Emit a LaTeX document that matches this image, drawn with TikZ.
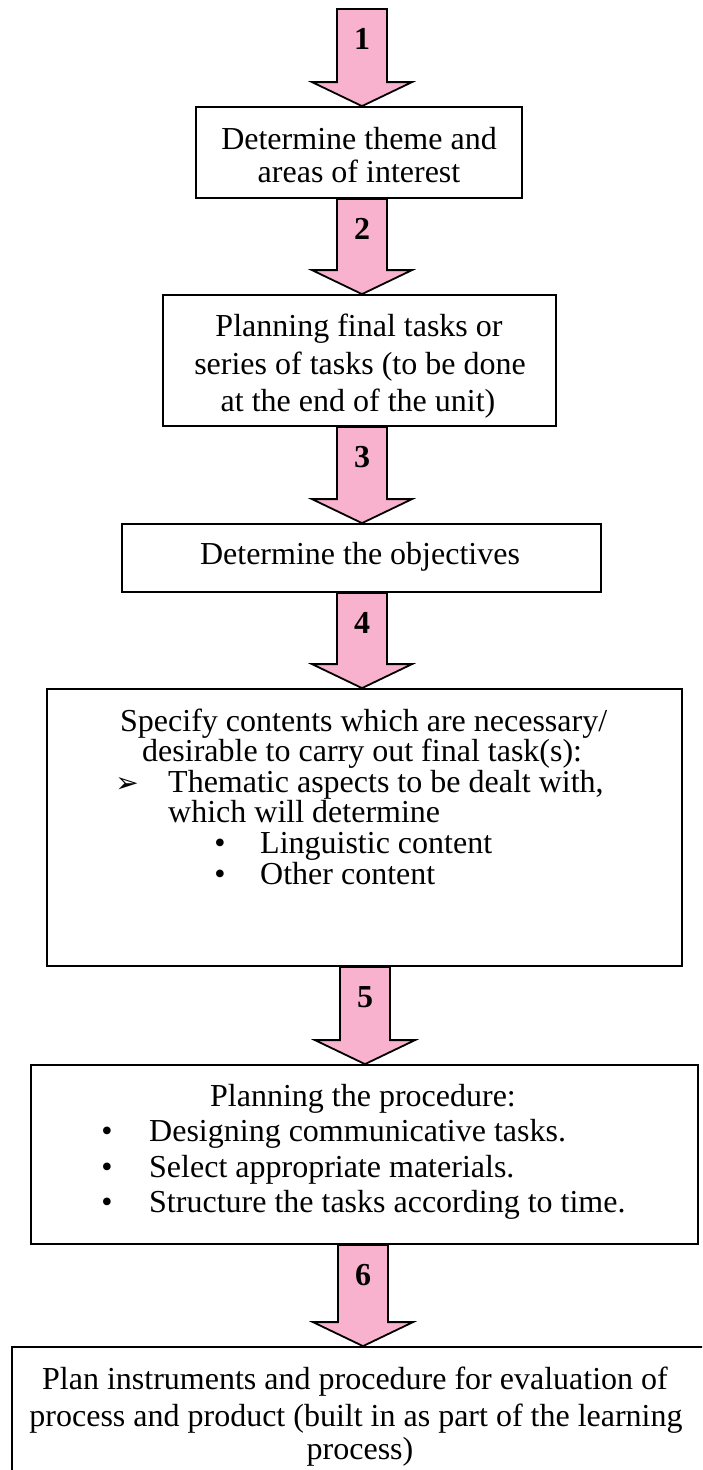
\documentclass[tikz,border=0pt]{standalone}
\usepackage{fontspec}
\setmainfont{Liberation Serif}
\newfontfamily\dingfont{DejaVu Sans}
\usetikzlibrary{calc}
\definecolor{arrowpink}{RGB}{249,178,206}
\tikzset{
  box/.style={draw=black, line width=1.8pt, fill=white, rectangle, inner sep=0pt},
  line/.style={inner sep=0pt, anchor=base, font=\fontsize{32}{38}\selectfont},
  lline/.style={line, anchor=base west},
  dot/.style={line},
  num/.style={inner sep=0pt, font=\fontsize{32}{38}\selectfont\bfseries},
  blockarrow/.style={draw=black, line width=1.8pt, fill=arrowpink, line join=miter},
}
% block arrow from start point #2 down to tip point #3, numbered #4
\newcommand\flowarrow[4]{%
  \draw[blockarrow] ($(#2)+(-25,0)$) -- ($(#3)+(-25,-24)$) -- ($(#3)+(-50,-24)$)
    -- (#3) -- ($(#3)+(50,-24)$) -- ($(#3)+(25,-24)$) -- ($(#2)+(25,0)$) -- cycle;
  \node[num] (#1) at ($(#2)+(0,30)$) {#4};
}
\begin{document}
\begin{tikzpicture}[x=1pt,y=-1pt]
\useasboundingbox (0,0) rectangle (702,1470);
\clip (0,0) rectangle (702,1470);
\fill[white] (0,0) rectangle (702,1470);

% boxes
\node[box, minimum width=326pt, minimum height=91pt]  (b1) at (359,152.5) {};
\node[box, minimum width=393pt, minimum height=131pt] (b2) at (359.5,360.5) {};
\node[box, minimum width=479pt, minimum height=68pt]  (b3) at (361.5,558) {};
\node[box, minimum width=635pt, minimum height=277pt] (b4) at (364.5,827.5) {};
\node[box, minimum width=667pt, minimum height=179pt] (b5) at (364.5,1154.5) {};
\node[box, minimum width=710pt, minimum height=153pt] (b6) at (367,1423.5) {};

% box texts
\node[line] (t1a) at (359,149) {Determine theme and};
\node[line] (t1b) at (359,182) {areas of interest};

\node[line] (t2a) at (359,336) {Planning final tasks or};
\node[line] (t2b) at (360,374) {series of tasks (to be done};
\node[line] (t2c) at (358,411) {at the end of the unit)};

\node[line] (t3a) at (360,564) {Determine the objectives};

\node[lline] (t4a) at (120,731) {Specify contents which are necessary/};
\node[lline] (t4b) at (142,761) {desirable to carry out final task(s):};
\node[inner sep=0pt, anchor=base, font=\dingfont\fontsize{28}{28}\selectfont] (m4c) at (127,792) {➢};
\node[lline] (t4c) at (168,792) {Thematic aspects to be dealt with,};
\node[lline] (t4d) at (168,822) {which will determine};
\node[dot]   (m4e) at (220,853) {•};
\node[lline] (t4e) at (260,853) {Linguistic content};
\node[dot]   (m4f) at (220,884) {•};
\node[lline] (t4f) at (260,884) {Other content};

\node[line]  (t5a) at (363,1106) {Planning the procedure:};
\node[dot]   (m5b) at (107,1141) {•};
\node[lline] (t5b) at (149,1141) {Designing communicative tasks.};
\node[dot]   (m5c) at (107,1177) {•};
\node[lline] (t5c) at (149,1177) {Select appropriate materials.};
\node[dot]   (m5d) at (107,1212) {•};
\node[lline] (t5d) at (149,1212) {Structure the tasks according to time.};

\node[line] (t6a) at (355,1389) {Plan instruments and procedure for evaluation of};
\node[line] (t6b) at (356,1426) {process and product (built in as part of the learning};
\node[line] (t6c) at (360,1459) {process)};

% arrow axis and end points
\coordinate (ax) at (362,0);
\coordinate (a1s) at (362,9);
\coordinate (a1t) at (b1.north -| ax);
\coordinate (a2s) at (b1.south -| ax);
\coordinate (a2t) at (b2.north -| ax);
\coordinate (a3s) at (b2.south -| ax);
\coordinate (a3t) at (b3.north -| ax);
\coordinate (a4s) at (b3.south -| ax);
\coordinate (a4t) at (b4.north -| ax);
\coordinate (bx) at (365,0);
\coordinate (a5s) at (b4.south -| bx);
\coordinate (a5t) at (b5.north -| bx);
\coordinate (cx) at (363,0);
\coordinate (a6s) at (b5.south -| cx);
\coordinate (a6t) at (b6.north -| cx);

% numbered block arrows
\flowarrow{n1}{a1s}{a1t}{1}
\flowarrow{n2}{a2s}{a2t}{2}
\flowarrow{n3}{a3s}{a3t}{3}
\flowarrow{n4}{a4s}{a4t}{4}
\flowarrow{n5}{a5s}{a5t}{5}
\flowarrow{n6}{a6s}{a6t}{6}
\end{tikzpicture}
\end{document}
